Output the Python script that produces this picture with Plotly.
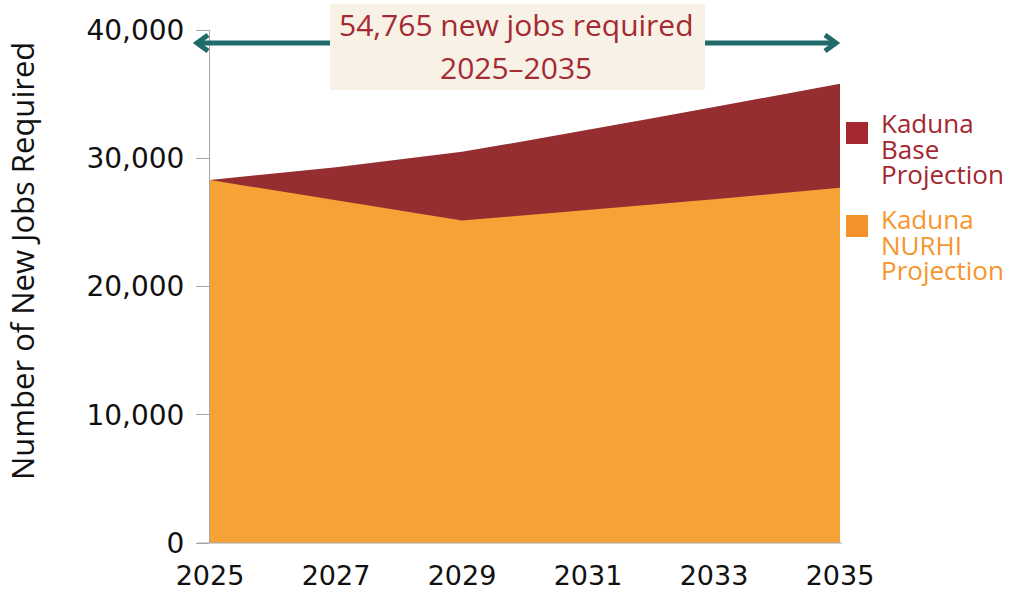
import plotly.graph_objects as go

years = [2025, 2026, 2027, 2028, 2029, 2030, 2031, 2032, 2033, 2034, 2035]
base_projection = [28300, 28800, 29300, 29900, 30500, 31350, 32200, 33100, 34000, 34900, 35800]
nurhi_projection = [28300, 27500, 26700, 25900, 25150, 25550, 25950, 26350, 26800, 27250, 27700]
x_ticks = [2025, 2027, 2029, 2031, 2033, 2035]
y_ticks = [0, 10000, 20000, 30000, 40000]
y_tick_labels = ["0", "10,000", "20,000", "30,000", "40,000"]
base_label_lines = ["Kaduna", "Base", "Projection"]
nurhi_label_lines = ["Kaduna", "NURHI", "Projection"]
headline = ["54,765 new jobs required", "2025\u20132035"]
y_title = "Number of New Jobs Required"

W, H = 1024, 594
L, R, T, B = 210, 184, 30, 51
PW, PH = W - L - R, H - T - B


def px(x):
    return (x - L) / PW


def py(y):
    return (H - B - y) / PH


BASE_FILL = "#962D30"
NURHI_FILL = "#F5A237"
BASE_TXT = "#A3272F"
NURHI_TXT = "#F7962C"
TEAL = "#1E6B69"

fig = go.Figure()
fig.add_trace(go.Scatter(x=years, y=base_projection, mode="lines", fill="tozeroy",
                         line=dict(width=0, color=BASE_FILL), fillcolor=BASE_FILL,
                         name="Kaduna Base Projection", showlegend=False))
fig.add_trace(go.Scatter(x=years, y=nurhi_projection, mode="lines", fill="tozeroy",
                         line=dict(width=0, color=NURHI_FILL), fillcolor=NURHI_FILL,
                         name="Kaduna NURHI Projection", showlegend=False))

shapes = []
# double-headed arrow
ay = py(43)
shapes.append(dict(type="line", xref="paper", yref="paper", x0=px(198), x1=px(835), y0=ay, y1=ay,
                   line=dict(color=TEAL, width=5)))
shapes.append(dict(type="path", xref="paper", yref="paper",
                   path=f"M {px(208)} {py(35)} L {px(197)} {py(43)} L {px(208)} {py(51)}",
                   line=dict(color=TEAL, width=5)))
shapes.append(dict(type="path", xref="paper", yref="paper",
                   path=f"M {px(825)} {py(35)} L {px(836)} {py(43)} L {px(825)} {py(51)}",
                   line=dict(color=TEAL, width=5)))
# headline box
shapes.append(dict(type="rect", xref="paper", yref="paper", x0=px(330), x1=px(705), y0=py(90), y1=py(4),
                   fillcolor="#F8F1E5", line=dict(width=0)))
# legend swatches
shapes.append(dict(type="rect", xref="paper", yref="paper", x0=px(846), x1=px(868), y0=py(144), y1=py(122),
                   fillcolor="#A3282F", line=dict(width=0)))
shapes.append(dict(type="rect", xref="paper", yref="paper", x0=px(846), x1=px(868), y0=py(237), y1=py(215),
                   fillcolor="#F3912A", line=dict(width=0)))
# x baseline
shapes.append(dict(type="line", xref="paper", yref="paper", x0=px(197), x1=px(842), y0=0, y1=0,
                   line=dict(color="#A6A6A6", width=1), layer="above"))

annotations = []
annotations.append(dict(xref="paper", yref="paper", x=px(516), y=py(25), text=headline[0], showarrow=False,
                        xanchor="center", yanchor="middle",
                        font=dict(family="Open Sans", size=30, color="#A52A33")))
annotations.append(dict(xref="paper", yref="paper", x=px(516), y=py(67), text=headline[1], showarrow=False,
                        xanchor="center", yanchor="middle",
                        font=dict(family="Open Sans", size=30, color="#A52A33")))
for i, line in enumerate(base_label_lines):
    annotations.append(dict(xref="paper", yref="paper", x=px(880), y=py(123 + 25.5 * i), text=line,
                            showarrow=False, xanchor="left", yanchor="middle", borderpad=0,
                            font=dict(family="Open Sans", size=26, color=BASE_TXT)))
for i, line in enumerate(nurhi_label_lines):
    annotations.append(dict(xref="paper", yref="paper", x=px(880), y=py(219 + 25.5 * i), text=line,
                            showarrow=False, xanchor="left", yanchor="middle", borderpad=0,
                            font=dict(family="Open Sans", size=26, color=NURHI_TXT)))
annotations.append(dict(xref="paper", yref="paper", x=px(22), y=py(261), text=y_title,
                        showarrow=False, textangle=-90, xanchor="center", yanchor="middle",
                        font=dict(family="Open Sans", size=31, color="#111111")))

fig.update_layout(
    width=W, height=H,
    margin=dict(l=L, r=R, t=T, b=B, pad=0, autoexpand=False),
    paper_bgcolor="white", plot_bgcolor="white",
    shapes=shapes, annotations=annotations,
    xaxis=dict(range=[2025, 2035], tickvals=x_ticks, ticktext=[str(v) for v in x_ticks],
               showgrid=False, zeroline=False, showline=False, ticks="", automargin=False,
               ticklabelstandoff=14,
               tickfont=dict(family="DejaVu Sans", size=27, color="#111111")),
    yaxis=dict(range=[0, 40000], tickvals=y_ticks, ticktext=y_tick_labels, automargin=False,
               showgrid=False, zeroline=False, showline=True, linecolor="#A6A6A6", linewidth=1,
               ticks="outside", ticklen=13, tickcolor="#A6A6A6", ticklabelstandoff=6,
               tickfont=dict(family="DejaVu Sans", size=28, color="#111111")),
)

fig.write_html("out.html")
